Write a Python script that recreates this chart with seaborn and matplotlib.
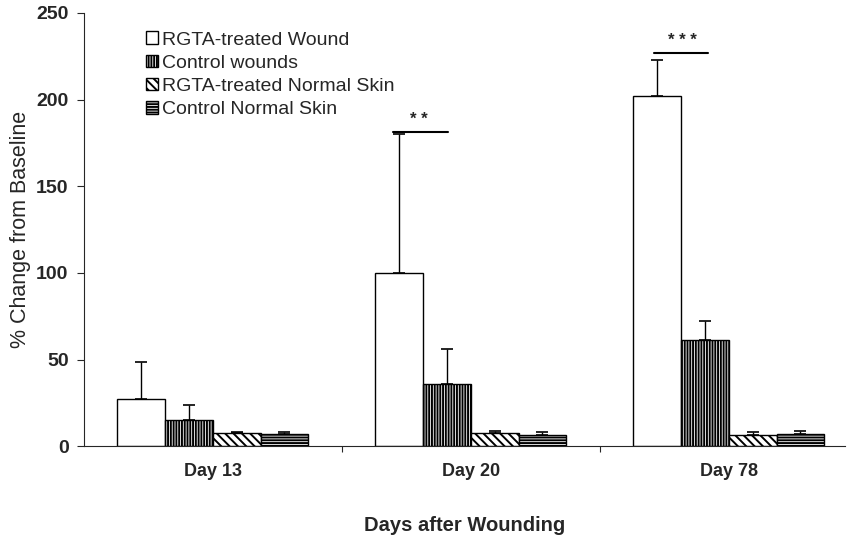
import numpy as np
import pandas as pd
import matplotlib
matplotlib.use('Agg')
import matplotlib.pyplot as plt
import seaborn as sns

days = ['Day 13', 'Day 20', 'Day 78']
groups = ['RGTA-treated Wound', 'Control wounds', 'RGTA-treated Normal Skin', 'Control Normal Skin']
rgta_wound = [27.5, 100, 202]
rgta_wound_err = [21, 80, 21]
control_wound = [15, 36, 61.5]
control_wound_err = [9, 20, 11]
rgta_skin = [7.5, 7.5, 6.5]
rgta_skin_err = [0.8, 1.5, 1.5]
control_skin = [7, 6.5, 7]
control_skin_err = [1.2, 1.5, 2]
hatches = ['', '||||||', '\\\\\\\\', '------']

df = pd.DataFrame({
    'Day': days * 4,
    'Group': np.repeat(groups, 3),
    'Change': rgta_wound + control_wound + rgta_skin + control_skin,
    'Err': rgta_wound_err + control_wound_err + rgta_skin_err + control_skin_err,
})

sns.set_style('ticks')
plt.rcParams['font.family'] = ['Liberation Sans', 'DejaVu Sans']
plt.rcParams['hatch.linewidth'] = 1.4

fig = plt.figure(figsize=(8.56, 5.37), dpi=100)
ax = fig.add_axes([0.098, 0.169, 0.889, 0.807])

sns.barplot(data=df, x='Day', y='Change', hue='Group', order=days, hue_order=groups,
            palette=['white'] * 4, edgecolor='black', linewidth=1, width=0.74,
            errorbar=None, ax=ax)

# hatch each series and add one-sided error bars
for cont, h, g in zip(ax.containers, hatches, groups):
    sub = df[df['Group'] == g].set_index('Day').loc[days]
    xs = []
    for p in cont.patches:
        p.set_hatch(h)
        xs.append(p.get_x() + p.get_width() / 2)
    ax.errorbar(xs, sub['Change'], yerr=[np.zeros(3), sub['Err']], fmt='none',
                ecolor='black', elinewidth=1, capsize=4, capthick=1.2, zorder=1)

ax.legend(handles=ax.containers, labels=groups, loc='upper left', bbox_to_anchor=(0.072, 0.975),
          frameon=False, fontsize=14, handlelength=0.6, handleheight=0.6,
          handletextpad=0.2, labelspacing=0.32, borderaxespad=0)

# significance markers
ax.plot([0.70, 0.91], [181, 181], color='black', lw=1.5)
ax.text(0.80, 184, '* *', ha='center', va='bottom', fontsize=12, fontweight='bold')
ax.plot([1.71, 1.92], [227, 227], color='black', lw=1.5)
ax.text(1.82, 230, '* * *', ha='center', va='bottom', fontsize=12, fontweight='bold')

ax.set_ylim(0, 250)
ax.set_xlim(-0.5, 2.45)
ax.set_yticks([0, 50, 100, 150, 200, 250])
ax.set_xticks([0.5, 1.5])
ax.set_xticklabels([])
ax.set_xticks([0, 1, 2], minor=True)
ax.set_xticklabels(days, minor=True)
ax.tick_params(axis='x', which='minor', length=0, pad=12)
ax.tick_params(axis='x', which='major', length=4, width=0.8)
ax.tick_params(axis='y', length=5, width=0.8, pad=6)
for lab in ax.get_yticklabels():
    lab.set_fontweight('bold')
    lab.set_fontsize(14)
for lab in ax.get_xticklabels(minor=True):
    lab.set_fontweight('bold')
    lab.set_fontsize(13)

ax.set_ylabel('% Change from Baseline', fontsize=15.5, labelpad=4)
ax.set_xlabel('Days after Wounding', fontsize=14.5, fontweight='bold', labelpad=26)
sns.despine(ax=ax)

fig.savefig('out.png', dpi=100)
